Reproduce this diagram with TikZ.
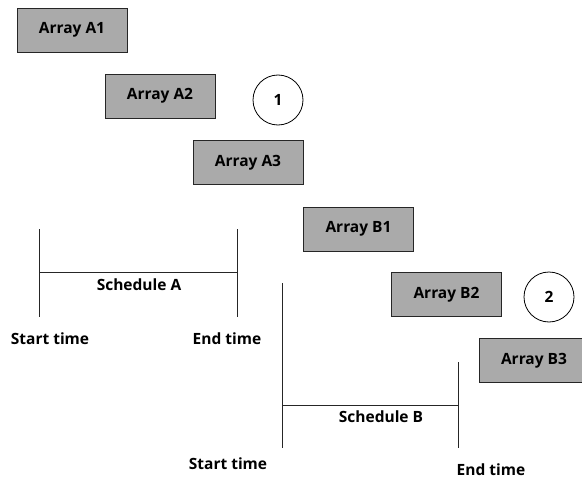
\documentclass[tikz,border=0pt]{standalone}
\usepackage{fontspec}
\setmainfont{Open Sans}
\usetikzlibrary{positioning}
\definecolor{boxgray}{RGB}{170,170,170}
\tikzset{
  arraybox/.style={draw=black!85,fill=boxgray,line width=0.9pt,minimum width=110pt,minimum height=44pt,inner sep=0pt,font=\bfseries\fontsize{15.5}{18}\selectfont},
  stepcircle/.style={draw,circle,line width=0.8pt,minimum size=50pt,inner sep=0pt,font=\bfseries\fontsize{15.5}{18}\selectfont},
  timelabel/.style={inner sep=0pt,font=\bfseries\fontsize{15.5}{18}\selectfont},
  bar/.style={line width=0.9pt,black!85}
}
\begin{document}
\begin{tikzpicture}[x=1pt,y=1pt,yscale=-1,xscale=1]
\useasboundingbox (0,0) rectangle (582,479);

% Arrays
\node[arraybox] (a1) at (72,30) {Array A1};
\node[arraybox] (a2) at (160,96) {Array A2};
\node[arraybox] (a3) at (248,162.5) {Array A3};
\node[arraybox] (b1) at (358.5,229) {Array B1};
\node[arraybox] (b2) at (446.5,294.5) {Array B2};
\node[arraybox] (b3) at (534,360.5) {Array B3};

% Circles
\node[stepcircle] (one) at (278,100) {1};
\node[stepcircle] (two) at (549,297) {2};

% Schedule A
\coordinate (sat) at (39,229);
\coordinate (sab) at (39,317);
\coordinate (eat) at (237,229);
\coordinate (eab) at (237,317);
\coordinate (sam) at (39,272);
\coordinate (eam) at (237,272);
\draw[bar] (sat) -- (sab);
\draw[bar] (eat) -- (eab);
\draw[bar] (sam) -- (eam);

% Schedule B
\coordinate (sbt) at (282,283);
\coordinate (sbb) at (282,448);
\coordinate (ebt) at (458,362);
\coordinate (ebb) at (458,448);
\coordinate (sbm) at (282,405);
\coordinate (ebm) at (458,405);
\draw[bar] (sbt) -- (sbb);
\draw[bar] (ebt) -- (ebb);
\draw[bar] (sbm) -- (ebm);

% Text Node
\node[timelabel] (scha) at (139,285) {Schedule A};
\node[timelabel] (starta) at (50,339) {Start time};
\node[timelabel] (enda) at (227,339) {End time};
\node[timelabel] (schb) at (381,417) {Schedule B};
\node[timelabel] (startb) at (228,464) {Start time};
\node[timelabel] (endb) at (491,470) {End time};
\end{tikzpicture}
\end{document}
